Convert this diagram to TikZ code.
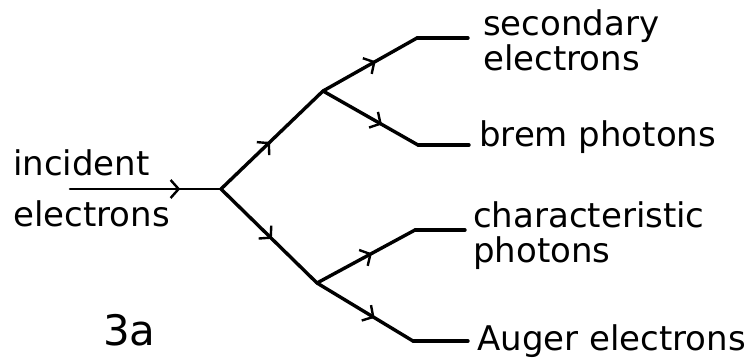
\documentclass[tikz,border=0pt]{standalone}
\usepackage{fontspec}
\setmainfont{DejaVu Sans}
\usetikzlibrary{arrows.meta,decorations.markings}
\begin{document}
\begin{tikzpicture}[x=1pt,y=-1pt,
  wire/.style={line width=3.4pt, line cap=round, line join=round},
  flow/.style={wire, postaction={decorate}, decoration={markings, mark=at position #1 with {\arrow{Straight Barb[length=8pt,width=18pt,line width=2.4pt]}}}},
  flow/.default=0.5,
  lbl/.style={anchor=base west, inner sep=0pt, font=\fontsize{34}{32}\selectfont}]
\useasboundingbox (0,0) rectangle (755,360);
% branch points
\coordinate (in0) at (70,189);
\coordinate (A) at (221,189);
\coordinate (B) at (323,91);
\coordinate (C) at (317,283);
\coordinate (s1) at (417,38);  \coordinate (s1e) at (468,38);
\coordinate (s2) at (418,145); \coordinate (s2e) at (469,145);
\coordinate (s3) at (415,230); \coordinate (s3e) at (465,230);
\coordinate (s4) at (413,341); \coordinate (s4e) at (468,341);
% connectors
\draw[flow=0.73, line width=2.6pt] (in0) -- (A);
\draw[flow=0.48] (A) -- (B);
\draw[flow=0.53] (A) -- (C);
\draw[flow=0.56] (B) -- (s1);
\draw[wire] (s1) -- (s1e);
\draw[flow=0.62] (B) -- (s2);
\draw[wire] (s2) -- (s2e);
\draw[flow=0.56] (C) -- (s3);
\draw[wire] (s3) -- (s3e);
\draw[flow=0.60] (C) -- (s4);
\draw[wire] (s4) -- (s4e);
% labels
\node[lbl] (inc) at (13,175) {\begin{tabular}[t]{@{}l@{}}incident\\[16pt]electrons\end{tabular}};
\node[lbl] (sec) at (483,35) {\begin{tabular}[t]{@{}l@{}}secondary\\electrons\end{tabular}};
\node[lbl] (brem) at (479,146) {brem photons};
\node[lbl] (char) at (473,227) {\begin{tabular}[t]{@{}l@{}}characteristic\\photons\end{tabular}};
\node[lbl] (aug) at (477,350) {Auger electrons};
\node[lbl, font=\fontsize{42}{42}\selectfont] (fig) at (103,345) {3a};
\end{tikzpicture}
\end{document}
